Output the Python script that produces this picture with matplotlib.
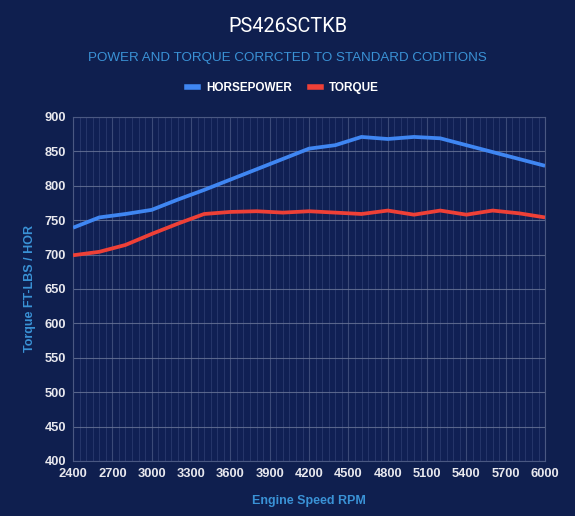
import matplotlib
matplotlib.use('Agg')
import matplotlib.pyplot as plt
from matplotlib.ticker import MultipleLocator

# engine speed, every 200 rpm
rpm = [2400, 2600, 2800, 3000, 3200, 3400, 3600, 3800, 4000, 4200,
       4400, 4600, 4800, 5000, 5200, 5400, 5600, 5800, 6000]
horsepower = [739, 754, 759, 765, 780, 794, 809, 824, 839, 854,
              859, 871, 868, 871, 869, 859, 849, 839, 829]
torque = [699, 704, 714, 730, 745, 759, 762, 763, 761, 763,
          761, 759, 764, 758, 764, 758, 764, 760, 754]

bg = '#0f1f4f'
blue = '#3f86f2'
red = '#ee4037'
label_blue = '#3a92d6'

fig = plt.figure(figsize=(5.75, 5.16), dpi=100, facecolor=bg)
ax = fig.add_axes([0.127, 0.1066, 0.821, 0.6667], facecolor='#102054')

ax.plot(rpm, horsepower, color=blue, lw=2.7, solid_capstyle='butt', zorder=3)
ax.plot(rpm, torque, color=red, lw=2.7, solid_capstyle='butt', zorder=3)

ax.set_xlim(2400, 6000)
ax.set_ylim(400, 900)
ax.xaxis.set_major_locator(MultipleLocator(300))
ax.xaxis.set_minor_locator(MultipleLocator(50))
ax.yaxis.set_major_locator(MultipleLocator(50))

ax.grid(which='major', axis='y', color='#6b7799', lw=0.8, alpha=0.8)
ax.grid(which='major', axis='x', color='#3b4a78', lw=0.8)
ax.grid(which='minor', axis='x', color='#26366a', lw=0.7)

for s in ax.spines.values():
    s.set_color('#4a5882')
    s.set_linewidth(0.8)

ax.tick_params(which='both', length=0, colors='#e8e8ee')
ax.tick_params(axis='y', pad=5)
ax.tick_params(axis='x', pad=5)
for lab in ax.get_xticklabels() + ax.get_yticklabels():
    lab.set_family('Liberation Sans')
    lab.set_fontweight('bold')
    lab.set_fontsize(9.3)

ax.set_xlabel('Engine Speed RPM', color=label_blue, fontsize=9, fontweight='bold',
              family='Liberation Sans', labelpad=11)
ax.set_ylabel('Torque FT-LBS / HOR', color=label_blue, fontsize=9, fontweight='bold',
              family='Liberation Sans', labelpad=6)

fig.text(0.5, 0.948, 'PS426SCTKB', color='white', fontsize=14.3,
         family='Roboto', ha='center', va='center')
fig.text(0.5, 0.888, 'POWER AND TORQUE CORRCTED TO STANDARD CODITIONS',
         color=label_blue, fontsize=9.6, family='Liberation Sans',
         ha='center', va='center')

# legend
hp_line, = ax.plot([], [], color=blue, lw=4)
tq_line, = ax.plot([], [], color=red, lw=4)
leg = fig.legend([hp_line, tq_line], ['HORSEPOWER', 'TORQUE'], loc='center',
                 bbox_to_anchor=(0.492, 0.829), ncol=2, frameon=False,
                 handlelength=0.95, handletextpad=0.7, columnspacing=1.5,
                 prop={'family': 'Liberation Sans', 'weight': 'bold', 'size': 8.5})
for t in leg.get_texts():
    t.set_color('white')

fig.savefig('out.png', dpi=100, facecolor=bg)
